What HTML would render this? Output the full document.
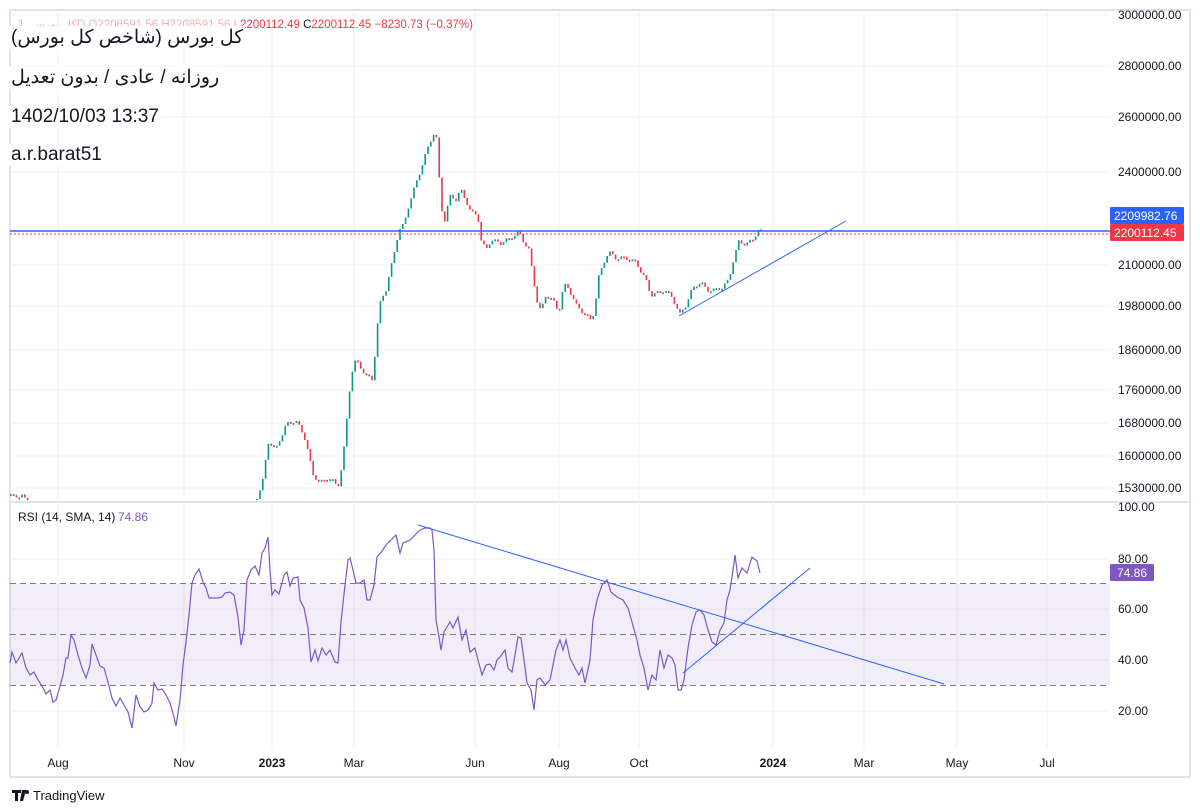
<!DOCTYPE html>
<html><head><meta charset="utf-8"><style>
body{margin:0;background:#fff;width:1200px;height:812px;overflow:hidden;font-family:"Liberation Sans",sans-serif}
svg{position:absolute;left:0;top:0}
.ov{position:absolute;left:9px;font-family:"Liberation Sans","Noto Sans CJK SC",sans-serif;color:#131722;font-size:19px;background:#fff;padding:0 2px}
</style></head><body>
<svg id="s" width="1200" height="812" xmlns="http://www.w3.org/2000/svg" font-family="Liberation Sans, sans-serif">
<rect x="10" y="10" width="1180" height="767" fill="none" stroke="#e0e3eb" stroke-width="2"/>
<line x1="10" y1="502" x2="1190" y2="502" stroke="#e0e3eb" stroke-width="2"/>
<g id="grid" stroke="#f0f1f4" stroke-width="1"></g>
<rect x="10" y="583.5" width="1100" height="102" fill="#7e57c2" fill-opacity="0.1"/>
<g stroke="#787b86" stroke-dasharray="6,4" stroke-width="1">
<line x1="10" y1="583.5" x2="1110" y2="583.5"/><line x1="10" y1="634.5" x2="1110" y2="634.5"/><line x1="10" y1="685.5" x2="1110" y2="685.5"/></g>
<g id="candles"></g>
<line x1="10" y1="231" x2="1110" y2="231" stroke="#2962ff" stroke-width="1.5"/>
<line x1="10" y1="234" x2="1110" y2="234" stroke="#f23645" stroke-width="1" stroke-dasharray="2,2"/>
<line x1="679" y1="316" x2="846" y2="221" stroke="#2962ff" stroke-width="1"/>
<polyline id="rsi" fill="none" stroke="#7e57c2" stroke-width="1.2"/>
<line x1="418" y1="525" x2="944" y2="684" stroke="#2962ff" stroke-width="1"/>
<line x1="683" y1="673" x2="810" y2="568" stroke="#2962ff" stroke-width="1"/>
<g id="labels" font-size="12" fill="#131722"></g>
<rect x="1110" y="207" width="74" height="17" fill="#2962ff" rx="1"/>
<text x="1114" y="220" font-size="12" fill="#fff">2209982.76</text>
<rect x="1110" y="224" width="74" height="17" fill="#f23645" rx="1"/>
<text x="1114" y="237" font-size="12" fill="#fff">2200112.45</text>
<rect x="1110" y="564" width="44" height="17" fill="#7e57c2" rx="1"/>
<text x="1117" y="577" font-size="12" fill="#fff">74.86</text>
<text x="18" y="521" font-size="12" fill="#131722">RSI (14, SMA, 14)</text>
<text x="118" y="521" font-size="12" fill="#7e57c2">74.86</text>
<text x="18" y="28" font-size="11.5" fill="#f23645"><tspan fill="#f7b0b5">کل بورس, 1D  O2208591.56  H2208591.56  L</tspan>2200112.49  <tspan fill="#131722">C</tspan>2200112.45  −8230.73 (−0.37%)</text>
<g transform="translate(12,790)"><path d="M0 0h9v3h-3v8h-3v-8h-3z M10 0h4l-3 11h-3z" fill="#131722"/><circle cx="15" cy="2" r="2" fill="#131722"/></g>
<text x="33" y="800" font-size="13" fill="#131722">TradingView</text>
</svg>
<div class="ov" style="top:26px">(کل بورس (شاخص کل بورس</div>
<div class="ov" style="top:66px">روزانه / عادی / بدون تعدیل</div>
<div class="ov" style="top:106px">1402/10/03 13:37</div>
<div class="ov" style="top:144px">a.r.barat51</div>
<script>
const NS="http://www.w3.org/2000/svg";
function el(p,t,a,txt){const e=document.createElementNS(NS,t);for(const k in a)e.setAttribute(k,a[k]);if(txt)e.textContent=txt;document.getElementById(p).appendChild(e);return e;}
const vx=[58,184,272,354,475,559,639,773,864,957,1047];
vx.forEach(x=>{el("grid","line",{x1:x,y1:10,x2:x,y2:748});});
const py=[[15,"3000000.00"],[66,"2800000.00"],[117,"2600000.00"],[172,"2400000.00"],[265,"2100000.00"],[306,"1980000.00"],[350,"1860000.00"],[390,"1760000.00"],[423,"1680000.00"],[456,"1600000.00"],[488,"1530000.00"]];
py.forEach(([y,t])=>{el("grid","line",{x1:10,y1:y,x2:1110,y2:y});el("labels","text",{x:1118,y:y+4},t);});
[[507,"100.00"],[559,"80.00"],[609,"60.00"],[660,"40.00"],[711,"20.00"]].forEach(([y,t])=>{if(y!=507)el("grid","line",{x1:10,y1:y,x2:1110,y2:y});el("labels","text",{x:1118,y:y+4},t);});
const tl=[[58,"Aug"],[184,"Nov"],[272,"2023"],[354,"Mar"],[475,"Jun"],[559,"Aug"],[639,"Oct"],[773,"2024"],[864,"Mar"],[957,"May"],[1047,"Jul"]];
tl.forEach(([x,t])=>{const e=el("labels","text",{x:x,y:767,"text-anchor":"middle"},t);if(t=="2023"||t=="2024")e.setAttribute("font-weight","bold");});
const P=[[10,496],[14,494],[18,498],[22,496],[26,499],[255,502],[262,480],[268,440],[275,450],[285,425],[295,420],[305,440],[312,475],[320,482],[330,478],[337,488],[342,460],[345,430],[348,400],[350,375],[355,360],[365,375],[372,380],[376,330],[380,300],[385,290],[392,260],[398,230],[403,225],[408,205],[413,190],[418,175],[423,160],[428,145],[432,135],[435,130],[437,160],[440,200],[443,225],[446,210],[450,195],[455,200],[460,190],[465,200],[470,212],[477,215],[480,240],[485,250],[490,240],[500,243],[510,238],[518,232],[522,240],[528,250],[532,275],[536,300],[540,312],[545,295],[552,300],[558,312],[563,285],[568,288],[575,305],[582,312],[590,320],[594,310],[597,280],[603,262],[608,252],[615,258],[625,258],[635,262],[645,280],[650,295],[657,293],[664,290],[672,298],[679,315],[685,305],[692,288],[700,282],[706,290],[714,290],[722,287],[728,280],[733,258],[738,242],[745,244],[752,240],[757,230],[762,232]];
function interp(A,x){for(let i=1;i<A.length;i++){if(x<=A[i][0]){const a=A[i-1],b=A[i];return a[1]+(b[1]-a[1])*(x-a[0])/(b[0]-a[0]);}}return A[A.length-1][1];}
let prev=interp(P,10);
for(let x=10;x<=762;x+=2.8){if(x>28&&x<255){prev=interp(P,x);continue;}const y=interp(P,x)+Math.sin(x*1.7)*2;const up=y<prev;let y1=Math.min(prev,y),y2=Math.max(prev,y);if(y2-y1<2)y2=y1+2;if(y2>500)y2=500;if(y1<500)el("candles","rect",{x:x,y:y1,width:1.6,height:y2-y1,fill:up?"#089981":"#f23645"});prev=y;}
const R=[[10,663],[12,652],[16,663],[22,653],[26,668],[30,675],[34,672],[37,678],[42,686],[46,694],[50,690],[53,702],[56,700],[60,686],[63,675],[66,658],[68,658],[71,635],[74,640],[78,655],[82,668],[86,678],[90,665],[92,644],[96,655],[100,666],[104,668],[108,682],[112,698],[116,706],[120,698],[124,705],[128,712],[132,728],[136,695],[140,707],[144,712],[148,710],[152,703],[154,683],[158,690],[162,689],[166,695],[170,703],[174,717],[176,726],[180,700],[183,665],[186,642],[189,615],[192,583],[195,575],[199,569],[203,582],[206,588],[209,598],[213,598],[218,598],[222,597],[225,593],[230,592],[234,595],[238,617],[241,645],[244,630],[247,580],[251,570],[255,566],[259,575],[262,553],[265,548],[268,537],[270,570],[272,595],[275,590],[279,594],[284,575],[287,572],[290,586],[293,578],[298,577],[300,600],[304,608],[308,628],[311,662],[315,650],[318,661],[322,648],[326,655],[330,650],[335,662],[338,663],[341,622],[344,594],[348,560],[350,558],[353,570],[356,583],[360,583],[364,580],[367,600],[370,600],[374,585],[377,557],[382,551],[386,545],[391,540],[396,535],[400,553],[403,543],[410,540],[415,535],[420,530],[425,528],[430,528],[432,530],[434,550],[436,620],[439,637],[441,650],[444,632],[447,627],[450,622],[453,628],[458,617],[462,640],[466,630],[470,652],[475,648],[478,660],[482,675],[486,665],[490,664],[494,670],[497,660],[500,657],[505,650],[508,668],[512,672],[515,655],[518,637],[521,638],[524,660],[527,683],[531,690],[534,710],[537,680],[540,678],[545,685],[550,680],[553,665],[556,650],[560,640],[563,650],[566,640],[570,658],[575,668],[579,675],[582,668],[585,683],[590,660],[593,620],[597,600],[602,585],[607,580],[611,592],[617,597],[623,600],[628,608],[632,622],[637,640],[640,655],[644,668],[648,690],[652,675],[656,680],[660,650],[664,668],[668,655],[672,658],[675,665],[678,690],[681,690],[684,680],[688,648],[692,625],[696,612],[700,610],[704,615],[708,630],[712,642],[716,645],[720,630],[724,623],[727,600],[730,590],[733,570],[735,555],[738,578],[742,568],[747,573],[752,557],[757,561],[760,573]];
document.getElementById("rsi").setAttribute("points",R.map(p=>p.join(",")).join(" "));
</script>
</body></html>
